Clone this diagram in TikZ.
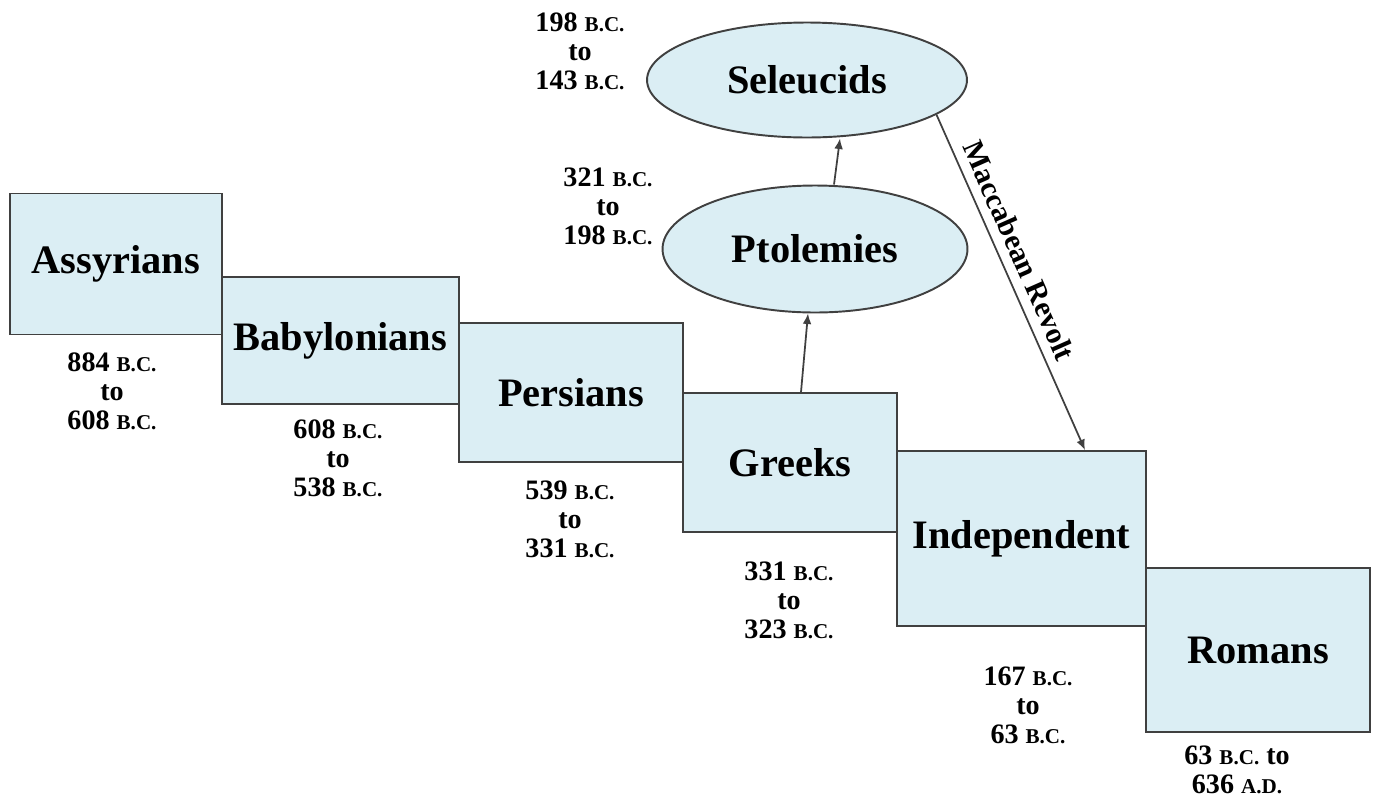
\documentclass[tikz,border=0pt]{standalone}
\usepackage{fontspec}
\setmainfont{Liberation Serif}
\usetikzlibrary{shapes}
\usetikzlibrary{positioning}
\usetikzlibrary{arrows.meta}
\definecolor{paleblue}{RGB}{219,238,244}
\definecolor{edgegray}{RGB}{64,64,64}
\newcommand{\bc}{{\fontsize{12}{12}\selectfont B.C.}}
\newcommand{\ad}{{\fontsize{12}{12}\selectfont A.D.}}

\begin{document}
\begin{tikzpicture}[x=0.02cm,y=-0.02cm,
  empire/.style={draw=edgegray, fill=paleblue, line width=1.1pt, inner sep=0pt,
    font=\fontsize{23}{25}\selectfont\bfseries},
  dates/.style={align=center, font=\fontsize{16}{16.5}\selectfont\bfseries},
  flow/.style={draw=edgegray, line width=1pt, -{Latex[length=6pt,width=5pt]}}]
\useasboundingbox (0,0) rectangle (1376,802);
% the empires, one after another
\node[empire, minimum width=4.24cm, minimum height=2.82cm] (assyrians) at (116,264) {Assyrians};
\node[empire, minimum width=4.74cm, minimum height=2.54cm] (babylonians) at (340.5,340.5) {Babylonians};
\node[empire, minimum width=4.48cm, minimum height=2.78cm] (persians) at (571,392.5) {Persians};
\node[empire, minimum width=4.28cm, minimum height=2.78cm] (greeks) at (790,462.5) {Greeks};
\node[empire, minimum width=4.98cm, minimum height=3.5cm] (independent) at (1021.5,538.5) {Independent};
\node[empire, minimum width=4.48cm, minimum height=3.28cm] (romans) at (1258,650) {Romans};
% the split after the Greeks
\node[empire, ellipse, minimum width=6.1cm, minimum height=2.54cm] (ptolemies) at (815,249) {Ptolemies};
\node[empire, ellipse, minimum width=6.4cm, minimum height=2.3cm] (seleucids) at (807,80) {Seleucids};
% dates
\node[dates] (assyriansdates) at (112,391) {884 \bc\\to\\608 \bc};
\node[dates] (babyloniansdates) at (338,458) {608 \bc\\to\\538 \bc};
\node[dates] (persiansdates) at (570,519) {539 \bc\\to\\331 \bc};
\node[dates] (greeksdates) at (789,600) {331 \bc\\to\\323 \bc};
\node[dates] (independentdates) at (1028,705) {167 \bc\\to\\63 \bc};
\node[dates] (romansdates) at (1237,770) {63 \bc{} to\\636 \ad};
\node[dates] (ptolemiesdates) at (608,206) {321 \bc\\to\\198 \bc};
\node[dates] (seleucidsdates) at (580,51) {198 \bc\\to\\143 \bc};
% arrows
\draw[flow] ([xshift=0.22cm]greeks.north) -- ([xshift=-0.14cm]ptolemies.south);
\draw[flow] ([xshift=0.38cm]ptolemies.north) -- ([xshift=0.66cm]seleucids.south);
\draw[flow] (seleucids.-15) -- ([xshift=1.27cm]independent.north)
  node[pos=0.43, sloped, above=2pt, font=\fontsize{17}{17}\selectfont\bfseries] (revolt) {Maccabean Revolt};
\end{tikzpicture}
\end{document}
